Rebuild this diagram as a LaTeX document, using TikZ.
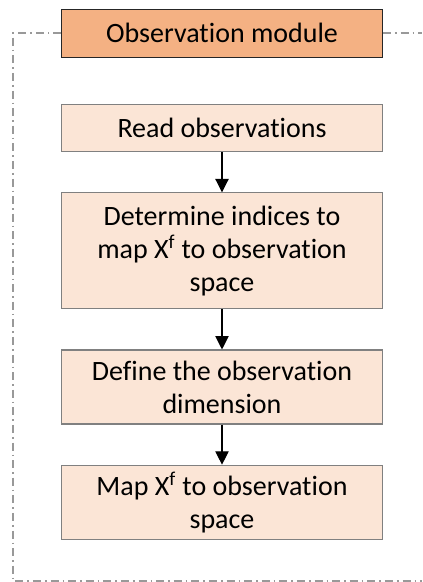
\documentclass[tikz,border=0pt]{standalone}
\usepackage{fontspec}
\setmainfont[RawFeature=-liga]{Carlito}
\usetikzlibrary{positioning,arrows.meta}
\definecolor{titlefill}{HTML}{F4B183}
\definecolor{boxfill}{HTML}{FBE5D6}
\begin{document}
\begin{tikzpicture}[x=0.75pt, y=-0.75pt, node distance=30pt,
    title/.style = {draw=black!85, fill=titlefill, line width=0.6pt, minimum width=240.75pt, minimum height=36pt, inner sep=0pt, font=\fontsize{21}{25}\selectfont},
    stepbox/.style = {draw=black!50, fill=boxfill, line width=0.9pt, align=center, minimum width=240.75pt, inner sep=0pt, font=\fontsize{21}{25}\selectfont},
    frame/.style = {draw=black!40, line width=1.2pt, dash pattern=on 6pt off 3pt on 1.2pt off 3pt},
    arr/.style = {-{Triangle[width=10pt,length=10pt]}, line width=0.8pt}]
        \useasboundingbox (0,0) rectangle (422,582);

        \node[title] (obs) at (222,33) {Observation module};
        \node[stepbox, minimum height=35.25pt] (read) [below=35pt of obs] {Read observations};
        \node[stepbox, minimum height=87pt] (indices) [below=of read] {Determine indices to\\map X\textsuperscript{f} to observation\\space};
        \node[stepbox, minimum height=55.5pt] (dim) [below=of indices] {Define the observation\\dimension};
        \node[stepbox, minimum height=55.5pt] (map) [below=of dim] {Map X\textsuperscript{f} to observation\\space};

        \draw[arr] (read) -- (indices);
        \draw[arr] (indices) -- (dim);
        \draw[arr] (dim) -- (map);

        \coordinate (tl) at (13,33);
        \coordinate (bl) at (13,581);
        \coordinate (br) at (422,581);
        \coordinate (tr) at (422,33);
        \draw[frame] (obs.west) -- (tl) -- (bl) -- (br);
        \draw[frame] (obs.east) -- (tr);

    \end{tikzpicture}
\end{document}
